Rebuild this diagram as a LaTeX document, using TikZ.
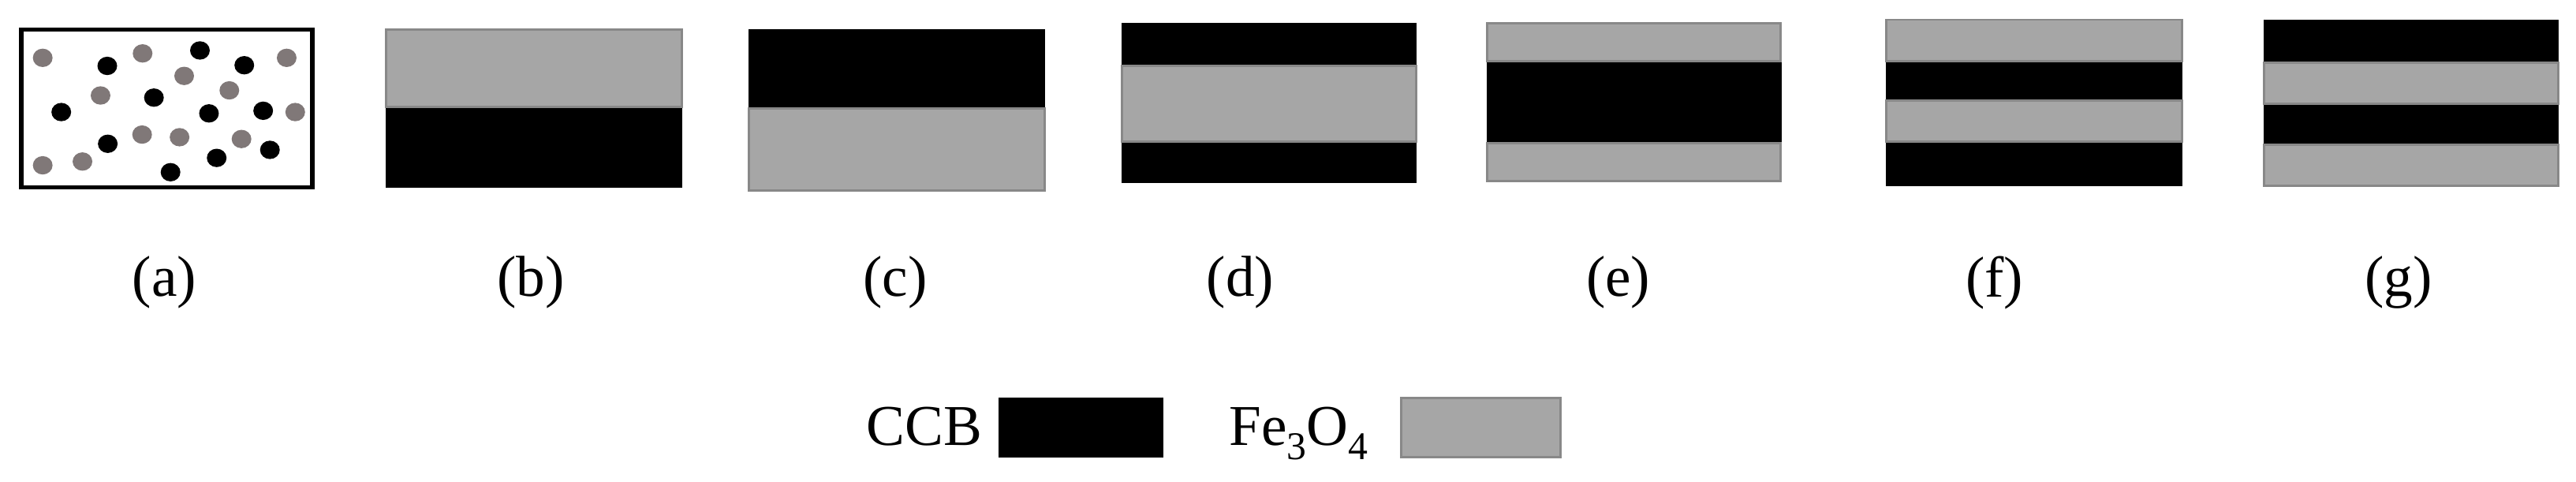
\documentclass[tikz,border=0pt]{standalone}
\usepackage{fontspec}
\setmainfont{Liberation Serif}
\newcommand{\mysub}[1]{\raisebox{-0.25em}{\fontsize{34}{40}\selectfont #1}}
\begin{document}
\begin{tikzpicture}[x=0.05cm,y=-0.05cm,
  gl/.style={fill={rgb,255:red,166;green,166;blue,166},draw={rgb,255:red,136;green,136;blue,136},line width=2pt},
  bl/.style={fill=black,draw=black,line width=0.5pt},
  gdot/.style={fill={rgb,255:red,128;green,120;blue,120}},
  bdot/.style={fill=black},
  lab/.style={font=\fontsize{50}{60}\selectfont,inner sep=0pt}]
\useasboundingbox (0,0) rectangle (1568,293);
% (a)
\draw[line width=4pt] (13,18) rectangle (190,114);
\foreach \x/\y in {26/35.2,86.8/32.5,112.1/46.2,174.5/35.2,61.2/58.1,139.6/55,179.7/68.2,86.5/81.9,109.3/83.5,147/84.6,26/100.6,50.2/98.3}
  \fill[gdot] (\x,\y) ellipse [x radius=6, y radius=5.6];
\foreach \x/\y in {65.3/40.1,121.7/30.7,148.7/39.7,93.7/59.4,37.3/68.2,127.2/69,160.2/67.4,65.6/87.5,131.9/96.1,164.3/91.2,103.8/104.8}
  \fill[bdot] (\x,\y) ellipse [x radius=6, y radius=5.6];
% (b)
\draw[bl] (235,65) rectangle (415,114);
\draw[gl] (235,18) rectangle (415,65);
% (c)
\draw[bl] (456,18) rectangle (636,66);
\draw[gl] (456,66) rectangle (636,116);
% (d)
\draw[bl] (683,14) rectangle (862,40);
\draw[bl] (683,86) rectangle (862,111);
\draw[gl] (683,40) rectangle (862,86);
% (e)
\draw[bl] (905,37) rectangle (1084,87);
\draw[gl] (905,14) rectangle (1084,37);
\draw[gl] (905,87) rectangle (1084,110);
% (f)
\draw[bl] (1148,37) rectangle (1328,61);
\draw[bl] (1148,86) rectangle (1328,113);
\draw[gl] (1148,12) rectangle (1328,37);
\draw[gl] (1148,61) rectangle (1328,86);
% (g)
\draw[bl] (1378,12) rectangle (1557,38);
\draw[bl] (1378,63) rectangle (1557,88);
\draw[gl] (1378,38) rectangle (1557,63);
\draw[gl] (1378,88) rectangle (1557,113);
% labels
\node[lab] (la) at (100,172) {(a)};
\node[lab] (lb) at (323,172) {(b)};
\node[lab] (lc) at (545,172) {(c)};
\node[lab] (ld) at (755,172) {(d)};
\node[lab] (le) at (985,172) {(e)};
\node[lab] (lf) at (1214,172) {(f)};
\node[lab] (lg) at (1460,172) {(g)};
% legend
\node[lab,anchor=base east] (ccb) at (598,271) {CCB};
\draw[bl] (608,242) rectangle (708,278);
\node[lab,anchor=base west] (fe) at (748,271) {Fe\mysub{3}O\mysub{4}};
\draw[gl] (853,242) rectangle (950,278);
\end{tikzpicture}
\end{document}
